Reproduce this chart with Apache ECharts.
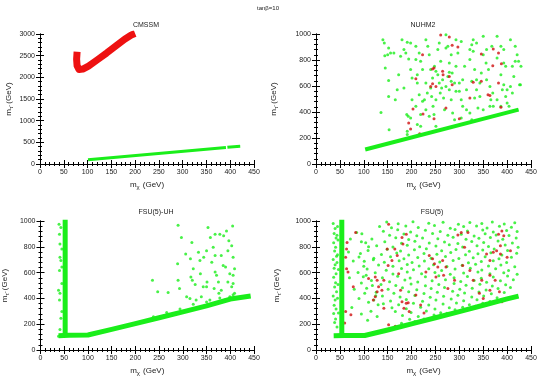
<!DOCTYPE html>
<html>
<head>
<meta charset="utf-8">
<script src="https://cdn.jsdelivr.net/npm/echarts@6/dist/echarts.min.js"></script>
<style>
html, body { margin: 0; padding: 0; background: #fff; }
#main { width: 540px; height: 379px; }
</style>
</head>
<body>
<div id="main"></div>
<script>
// tick labels
var xTicks = [0, 50, 100, 150, 200, 250, 300, 350, 400, 450];
var yTicksCmssm = [0, 500, 1000, 1500, 2000, 2500, 3000];
var yTicksOther = [0, 200, 400, 600, 800, 1000];
var panelTitles = ['CMSSM', 'NUHM2', 'FSU(5)-UH', 'FSU(5)'];

// CMSSM: two dense bands
var cmssmGreenBand = [[101, 100], [391, 381]];
var cmssmGreenBand2 = [[394, 384], [421, 410]];
var cmssmRedBand = [[78, 2590], [77, 2420], [78, 2270], [82, 2180], [90, 2190], [102, 2260], [120, 2400],
    [140, 2560], [160, 2730], [178, 2880], [192, 2975], [200, 3010]];

// NUHM2
var nuhm2Band = [[103, 112], [424, 418]];
var nuhm2Green = [[136, 397], [140, 956], [143, 931], [145, 738], [144, 833], [150, 841], [152, 892], [156, 854],
    [152, 643], [153, 264], [166, 495], [173, 687], [184, 880], [188, 854], [191, 936], [198, 931], [194, 808],
    [198, 726], [201, 661], [184, 585], [190, 380], [193, 367], [198, 354], [191, 251], [191, 226], [209, 803],
    [212, 623], [216, 533], [212, 303], [219, 290], [223, 482], [227, 495], [230, 956], [234, 905], [237, 841],
    [240, 726], [244, 661], [240, 585], [242, 520], [245, 444], [247, 380], [251, 290], [255, 880], [258, 931],
    [261, 790], [265, 649], [263, 585], [267, 508], [269, 418], [272, 995], [276, 905], [279, 777], [279, 705],
    [283, 636], [279, 572], [283, 495], [286, 392], [290, 341], [293, 956], [297, 854], [300, 623], [300, 559],
    [304, 495], [307, 444], [304, 354], [315, 418], [322, 880], [326, 918], [329, 867], [332, 726], [326, 636],
    [336, 572], [332, 508], [339, 431], [326, 341], [343, 520], [346, 700], [350, 982], [357, 880], [356, 777],
    [361, 726], [364, 597], [370, 546], [366, 495], [371, 444], [379, 982], [387, 905], [393, 880], [397, 751],
    [387, 687], [393, 610], [390, 572], [397, 520], [400, 469], [407, 956], [417, 905], [421, 841], [424, 790],
    [429, 751], [426, 610], [414, 674], [407, 597], [411, 546], [417, 790],
    [248, 751], [251, 713], [255, 687], [258, 623], [260, 546], [251, 495], [272, 597], [276, 674], [285, 700],
    [290, 623], [293, 559], [223, 726], [230, 623], [233, 546], [230, 418], [237, 367], [219, 380], [209, 444],
    [201, 495], [212, 687], [336, 649], [343, 623], [357, 649], [364, 444], [350, 418], [322, 392], [315, 572],
    [307, 649], [311, 751], [293, 751], [393, 777], [400, 572], [404, 444], [387, 444], [379, 495], [180, 956],
    [177, 828], [163, 854], [152, 520], [170, 572], [209, 905], [216, 854], [219, 790], [272, 892], [283, 841],
    [304, 943], [322, 803], [329, 956], [336, 931], [350, 841], [368, 905], [379, 815], [411, 751], [428, 610]];
var nuhm2Red = [[261, 992], [279, 977], [285, 913], [297, 900], [223, 841], [247, 738], [244, 731], [209, 656],
    [244, 618], [251, 597], [279, 674], [285, 610], [265, 713], [240, 597], [266, 687], [203, 423], [194, 315],
    [198, 269], [217, 233], [224, 385], [247, 349], [272, 431], [300, 349], [322, 508], [329, 628], [346, 636],
    [346, 846], [371, 885], [382, 854], [388, 772], [370, 756], [382, 623], [364, 526], [360, 533], [387, 436]];

// FSU(5)-UH
var uhVertBand = [[52, 125], [52, 1010]];
var uhBand = [[38, 110], [60, 114], [100, 116], [150, 160], [200, 205], [250, 250], [300, 295], [350, 342],
    [400, 395], [443, 418]];
var uhGreen = [[39, 974], [40, 898], [41, 821], [41, 719], [40, 617], [38, 464], [41, 439], [40, 388], [43, 247],
    [45, 298], [41, 158], [38, 107], [45, 515], [43, 949], [45, 783], [43, 694], [45, 643],
    [290, 967], [297, 872], [306, 745], [289, 668], [290, 541], [293, 477], [236, 541], [247, 452], [269, 446],
    [319, 834], [316, 707], [322, 630], [317, 566], [320, 541], [326, 508], [315, 400], [333, 758], [337, 592],
    [343, 490], [339, 413], [350, 490], [353, 949], [358, 872], [364, 796], [361, 681], [368, 605], [371, 579],
    [375, 528], [366, 477], [376, 439], [378, 898], [386, 885], [392, 923], [397, 847], [405, 962], [403, 809],
    [406, 719], [381, 732], [385, 656], [395, 770], [390, 643], [399, 592], [395, 528], [406, 579], [403, 490],
    [409, 439], [399, 413], [381, 464], [368, 732], [351, 528], [344, 719], [368, 898], [350, 770], [409, 630],
    [406, 515], [336, 694], [308, 413], [328, 388], [357, 388], [388, 388], [238, 258], [266, 290], [294, 318],
    [322, 355], [350, 372], [378, 404], [406, 428]];

// FSU(5)
var fsuVertBand = [[54, 125], [54, 1010]];
var fsuBand = [[37, 110], [60, 112], [102, 112], [150, 155], [200, 203], [250, 250], [300, 298], [350, 347],
    [400, 396], [424, 418]];
var fsuGreen = [[36, 980], [40, 941], [38, 903], [42, 868], [37, 832], [41, 797], [39, 768], [43, 726],
    [36, 702], [40, 661], [38, 633], [42, 592], [37, 563], [41, 521], [39, 488], [43, 452], [36, 418], [40, 388],
    [38, 347], [42, 318], [37, 283], [41, 241], [39, 214], [44, 178], [45, 958], [46, 852], [45, 738], [47, 624],
    [46, 507], [45, 402], [47, 287], [44, 889], [44, 679],
    [85, 910], [72, 860], [95, 840], [68, 760], [90, 720], [110, 800], [78, 690], [100, 650], [120, 700],
    [88, 600], [70, 560], [105, 580], [95, 520], [118, 500], [80, 470], [102, 440], [125, 420], [90, 400],
    [110, 370], [75, 330], [130, 350], [115, 300], [95, 280], [128, 260], [108, 230],
    [148, 992], [172, 978], [203, 995], [236, 983], [266, 990], [298, 975], [322, 988], [347, 980], [369, 993],
    [394, 977], [416, 986], [133, 958], [158, 947], [188, 962], [214, 950], [248, 965], [281, 944], [309, 957],
    [336, 962], [358, 946], [384, 959], [409, 951], [141, 920], [171, 932], [198, 915], [229, 928], [260, 918],
    [291, 935], [317, 922], [349, 930], [371, 914], [399, 926], [421, 918], [96, 902], [154, 890], [184, 899],
    [211, 886], [244, 903], [276, 889], [304, 897], [331, 884], [354, 901], [377, 892], [404, 887], [117, 860],
    [167, 871], [194, 857], [223, 868], [255, 862], [287, 874], [314, 858], [341, 866], [365, 872], [391, 859],
    [419, 868], [104, 832], [144, 840], [179, 828], [207, 843], [237, 830], [269, 838], [297, 826], [326, 841],
    [351, 833], [381, 845], [411, 829], [127, 808], [161, 799], [191, 812], [217, 800], [251, 806], [279, 815],
    [307, 798], [337, 809], [361, 802], [396, 813], [423, 797], [109, 772], [149, 781], [177, 768], [206, 777],
    [231, 784], [263, 770], [293, 779], [321, 766], [349, 776], [373, 783], [401, 771], [93, 748], [137, 740],
    [169, 752], [194, 737], [226, 749], [253, 742], [282, 755], [313, 738], [339, 747], [366, 753], [389, 736],
    [420, 750], [121, 712], [156, 722], [184, 708], [213, 718], [241, 711], [271, 724], [299, 709], [329, 716],
    [354, 722], [383, 707], [409, 719], [101, 688], [143, 680], [174, 692], [201, 678], [227, 689], [259, 683],
    [287, 694], [319, 677], [346, 686], [371, 691], [399, 679], [131, 658], [161, 649], [191, 662], [216, 652],
    [246, 660], [274, 648], [306, 657], [334, 665], [361, 651], [387, 659], [416, 646], [107, 628], [147, 619],
    [179, 632], [204, 622], [236, 630], [263, 617], [291, 627], [323, 634], [347, 620], [376, 629], [403, 616],
    [124, 598], [161, 590], [191, 604], [221, 592], [249, 600], [281, 588], [309, 597], [339, 604], [364, 591],
    [393, 599], [421, 588], [99, 568], [139, 560], [171, 572], [197, 558], [229, 567], [257, 575], [289, 561],
    [317, 569], [346, 556], [371, 566], [401, 574], [116, 538], [154, 530], [186, 542], [213, 528], [243, 537],
    [271, 545], [303, 531], [331, 539], [357, 526], [386, 536], [413, 544], [136, 508], [167, 500], [199, 512],
    [229, 498], [257, 507], [289, 515], [314, 501], [343, 509], [369, 497], [397, 506], [106, 478], [151, 470],
    [181, 482], [211, 468], [241, 477], [269, 485], [301, 471], [327, 479], [356, 466], [381, 476], [407, 484],
    [126, 448], [163, 440], [194, 452], [226, 438], [254, 447], [286, 455], [311, 441], [341, 449], [367, 436],
    [394, 446], [139, 418], [176, 410], [207, 422], [239, 408], [267, 417], [297, 425], [326, 411], [351, 419],
    [379, 406], [121, 388], [156, 380], [189, 392], [223, 378], [251, 387], [283, 395], [309, 381], [337, 389],
    [364, 376], [141, 358], [173, 350], [204, 362], [236, 348], [266, 357], [294, 365], [321, 351], [349, 362],
    [159, 328], [189, 320], [219, 332], [249, 318], [279, 327], [307, 331], [334, 340], [166, 298], [199, 290],
    [231, 302], [261, 288], [291, 312], [181, 268], [214, 260], [247, 272], [274, 285], [196, 238], [226, 240],
    [251, 262], [179, 208], [207, 220]];
var fsuRed = [[83, 911], [65, 834], [64, 783], [62, 719], [64, 630], [67, 605], [78, 490], [62, 298], [60, 209],
    [73, 273], [110, 554], [124, 566], [128, 541], [131, 490], [128, 452], [124, 413], [120, 388], [142, 541],
    [138, 464], [142, 324], [149, 783], [152, 975], [151, 656], [159, 694], [170, 732], [173, 592], [165, 783],
    [180, 872], [189, 898], [182, 821], [177, 464], [180, 375], [189, 362], [184, 324], [193, 367], [195, 298],
    [166, 184], [152, 196], [209, 426], [219, 349], [226, 286], [237, 732], [244, 707], [248, 668], [230, 605],
    [251, 566], [265, 694], [272, 643], [255, 643], [267, 579], [276, 477], [290, 541], [297, 892], [304, 911],
    [311, 796], [322, 617], [329, 541], [342, 439], [350, 400], [357, 745], [364, 694], [371, 758], [378, 770],
    [386, 809], [382, 898], [389, 923], [393, 885], [386, 745], [364, 579], [375, 541], [364, 464], [384, 452],
    [400, 719], [407, 770], [389, 375], [318, 911], [347, 541], [307, 655]];

var myChart = echarts.init(document.getElementById('main'));

var GREEN = '#1aee1a';
var RED = '#ee1111';
var FONT = 'Liberation Sans';

var grids = [
    {left: 40, top: 34, width: 214, height: 130},
    {left: 316, top: 34, width: 215, height: 130},
    {left: 40, top: 221, width: 214, height: 129},
    {left: 316, top: 221, width: 215, height: 129}
];
var yNameGaps = [26, 37, 30, 34];

var nameRich = {
    a: {fontSize: 8, color: '#222', fontFamily: FONT},
    b: {fontSize: 6, color: '#222', fontFamily: FONT, padding: [5, 3, 0, 0]}
};

var xAxes = [], yAxes = [];
grids.forEach(function (g, i) {
    var yt = i === 0 ? yTicksCmssm : yTicksOther;
    var base = {
        type: 'value',
        gridIndex: i,
        min: xTicks[0],
        max: xTicks[xTicks.length - 1],
        interval: xTicks[1] - xTicks[0],
        axisLine: {lineStyle: {color: '#000', width: 1}},
        axisTick: {inside: true, length: 4, lineStyle: {color: '#000'}},
        minorTick: {show: true, splitNumber: 5, length: 2, lineStyle: {color: '#000'}},
        splitLine: {show: false}
    };
    xAxes.push(Object.assign({}, base, {
        position: 'bottom',
        axisLabel: {fontSize: 7, color: '#222', fontFamily: FONT, margin: 5, formatter: function (v) { return String(v); }},
        name: '{a|m}{b|χ}{a|(GeV)}',
        nameLocation: 'middle',
        nameGap: 15,
        nameTextStyle: {rich: nameRich}
    }));
    xAxes.push(Object.assign({}, base, {position: 'top', axisLabel: {show: false}}));
    var ybase = {
        type: 'value',
        gridIndex: i,
        min: yt[0],
        max: yt[yt.length - 1],
        interval: yt[1] - yt[0],
        axisLine: {lineStyle: {color: '#000', width: 1}},
        axisTick: {inside: true, length: 4, lineStyle: {color: '#000'}},
        minorTick: {show: true, splitNumber: 5, length: 2, lineStyle: {color: '#000'}},
        splitLine: {show: false}
    };
    yAxes.push(Object.assign({}, ybase, {
        position: 'left',
        axisLabel: {fontSize: 7, color: '#222', fontFamily: FONT, margin: 5, formatter: function (v) { return String(v); }},
        name: '{a|m}{b|τ̃}{a|(GeV)}',
        nameLocation: 'middle',
        nameRotate: 90,
        nameGap: yNameGaps[i],
        nameTextStyle: {rich: nameRich}
    }));
    yAxes.push(Object.assign({}, ybase, {position: 'right', axisLabel: {show: false}}));
});

function band(panel, data, color, width) {
    return {
        type: 'line', xAxisIndex: panel * 2, yAxisIndex: panel * 2, data: data,
        symbol: 'none', silent: true,
        lineStyle: {color: color, width: width, cap: 'butt', join: 'round'}
    };
}
function dots(panel, data, color, size) {
    return {
        type: 'scatter', xAxisIndex: panel * 2, yAxisIndex: panel * 2, data: data,
        symbol: 'circle', symbolSize: size, silent: true,
        itemStyle: {color: color}
    };
}

var titlePos = [[141, 17], [418, 17], [151, 204], [427, 204]];

option = {
    backgroundColor: '#ffffff',
    animation: false,
    title: [{
        text: 'tanβ=10', left: 263, top: 0, textAlign: 'center',
        textStyle: {fontSize: 6, fontWeight: 'normal', color: '#222', fontFamily: FONT}
    }].concat(panelTitles.map(function (t, i) {
        return {
            text: t, left: titlePos[i][0], top: titlePos[i][1], textAlign: 'center',
            textStyle: {fontSize: 7, fontWeight: 'normal', color: '#222', fontFamily: FONT}
        };
    })),
    grid: grids,
    xAxis: xAxes,
    yAxis: yAxes,
    series: [
        band(0, cmssmGreenBand, GREEN, 3),
        band(0, cmssmGreenBand2, GREEN, 3),
        band(0, cmssmRedBand, RED, 7),
        band(1, nuhm2Band, GREEN, 4),
        dots(1, nuhm2Green, GREEN, 3),
        dots(1, nuhm2Red, '#d01010', 3),
        band(2, uhVertBand, GREEN, 5),
        band(2, uhBand, GREEN, 5),
        dots(2, uhGreen, GREEN, 3),
        band(3, fsuVertBand, GREEN, 5),
        band(3, fsuBand, GREEN, 5),
        dots(3, fsuGreen, GREEN, 3),
        dots(3, fsuRed, '#d01010', 3)
    ]
};
myChart.setOption(option);

window.onresize = function () {
    myChart.resize();
};
</script>
</body>
</html>
